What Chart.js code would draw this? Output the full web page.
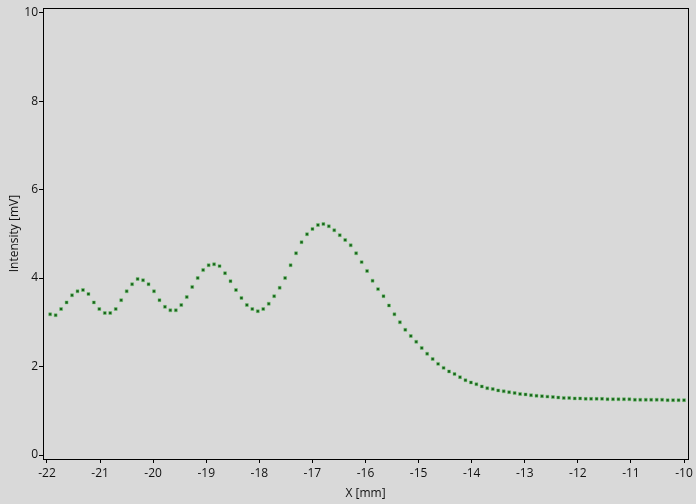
<html>

<head>
  <title>Intensity profile</title>
  <style>
    body {
      margin: 0;
      background: #d9d9d9;
    }
  </style>
  <script src="https://cdn.jsdelivr.net/npm/chart.js@4.4.1/dist/chart.umd.min.js"></script>
</head>

<body>
  <canvas id="chart" width="696" height="504"></canvas>

  <script>
    const xTicks = [-22, -21, -20, -19, -18, -17, -16, -15, -14, -13, -12, -11, -10];
    const yTicks = [0, 2, 4, 6, 8, 10];

    const xValues = [
      -21.940, -21.837, -21.734, -21.631, -21.528, -21.425, -21.322, -21.219, -21.117, -21.014,
      -20.911, -20.808, -20.705, -20.602, -20.499, -20.396, -20.293, -20.190, -20.087, -19.984,
      -19.881, -19.778, -19.676, -19.573, -19.470, -19.367, -19.264, -19.161, -19.058, -18.955,
      -18.852, -18.749, -18.646, -18.543, -18.440, -18.337, -18.235, -18.132, -18.029, -17.926,
      -17.823, -17.720, -17.617, -17.514, -17.411, -17.308, -17.205, -17.102, -16.999, -16.896,
      -16.793, -16.691, -16.588, -16.485, -16.382, -16.279, -16.176, -16.073, -15.970, -15.867,
      -15.764, -15.661, -15.558, -15.455, -15.352, -15.250, -15.147, -15.044, -14.941, -14.838,
      -14.735, -14.632, -14.529, -14.426, -14.323, -14.220, -14.117, -14.014, -13.911, -13.809,
      -13.706, -13.603, -13.500, -13.397, -13.294, -13.191, -13.088, -12.985, -12.882, -12.779,
      -12.676, -12.573, -12.470, -12.368, -12.265, -12.162, -12.059, -11.956, -11.853, -11.750,
      -11.647, -11.544, -11.441, -11.338, -11.235, -11.132, -11.029, -10.926, -10.824, -10.721,
      -10.618, -10.515, -10.412, -10.309, -10.206, -10.103, -10.000
    ];

    const intensity = [
      3.18, 3.16, 3.30, 3.45, 3.61, 3.70, 3.73, 3.64, 3.45, 3.30,
      3.21, 3.21, 3.30, 3.50, 3.70, 3.86, 3.98, 3.95, 3.86, 3.70,
      3.50, 3.35, 3.27, 3.27, 3.39, 3.57, 3.80, 4.00, 4.18, 4.29,
      4.31, 4.27, 4.11, 3.93, 3.73, 3.55, 3.39, 3.30, 3.25, 3.30,
      3.42, 3.59, 3.78, 4.00, 4.29, 4.56, 4.81, 4.99, 5.11, 5.20,
      5.22, 5.17, 5.08, 4.97, 4.86, 4.74, 4.56, 4.36, 4.16, 3.94,
      3.75, 3.59, 3.38, 3.18, 3.00, 2.83, 2.69, 2.56, 2.42, 2.29,
      2.17, 2.06, 1.97, 1.89, 1.83, 1.76, 1.69, 1.64, 1.60, 1.55,
      1.51, 1.49, 1.46, 1.44, 1.42, 1.40, 1.38, 1.37, 1.35, 1.34,
      1.33, 1.32, 1.31, 1.30, 1.29, 1.29, 1.28, 1.28, 1.27, 1.27,
      1.27, 1.27, 1.26, 1.26, 1.26, 1.26, 1.26, 1.25, 1.25, 1.25,
      1.25, 1.25, 1.25, 1.24, 1.24, 1.24, 1.24
    ];

    const points = xValues.map((x, i) => ({ x, y: intensity[i] }));

    // gray background + black frame round the plot area
    const frame = {
      id: 'frame',
      beforeDraw(chart) {
        const ctx = chart.ctx;
        ctx.save();
        ctx.fillStyle = '#d9d9d9';
        ctx.fillRect(0, 0, chart.width, chart.height);
        ctx.restore();
      },
      afterDraw(chart) {
        const { left, top, right, bottom } = chart.chartArea;
        const ctx = chart.ctx;
        ctx.save();
        ctx.strokeStyle = '#000';
        ctx.lineWidth = 1;
        ctx.strokeRect(Math.round(left) + 0.5, Math.round(top) + 0.5, Math.round(right - left), Math.round(bottom - top));
        ctx.restore();
      },
    };

    const tickFont = { family: 'Open Sans', size: 12 };

    new Chart(document.querySelector('canvas#chart'), {
      type: 'scatter',
      data: {
        datasets: [{
          data: points,
          showLine: false,
          pointStyle: 'rect',
          pointRadius: 2.1,
          pointHoverRadius: 2.1,
          backgroundColor: '#17601a',
          borderColor: 'rgba(120, 205, 120, 0.5)',
          borderWidth: 1,
        }],
      },
      options: {
        responsive: false,
        animation: false,
        layout: {
          padding: { top: 8, right: 8, left: 0, bottom: 0 },
        },
        plugins: {
          legend: { display: false },
          tooltip: { enabled: false },
        },
        scales: {
          x: {
            type: 'linear',
            min: -22.075,
            max: -9.925,
            afterBuildTicks: scale => { scale.ticks = xTicks.map(value => ({ value })); },
            afterFit: scale => { scale.height = 45; },
            border: { display: true, color: '#000' },
            grid: { drawOnChartArea: false, color: '#000', tickLength: 4 },
            ticks: { font: tickFont, color: '#111', padding: 3, maxRotation: 0 },
            title: {
              display: true,
              text: 'X [mm]',
              font: tickFont,
              color: '#111',
              padding: { top: 0, bottom: 3 },
            },
          },
          y: {
            type: 'linear',
            min: -0.09,
            max: 10.1,
            afterBuildTicks: scale => { scale.ticks = yTicks.map(value => ({ value })); },
            afterFit: scale => { scale.width = 43; },
            border: { display: true, color: '#000' },
            grid: { drawOnChartArea: false, color: '#000', tickLength: 4 },
            ticks: { font: tickFont, color: '#111', padding: 1 },
            title: {
              display: true,
              text: 'Intensity [mV]',
              font: tickFont,
              color: '#111',
              padding: { top: 7, bottom: 0 },
            },
          },
        },
      },
      plugins: [frame],
    });
  </script>
</body>

</html>
